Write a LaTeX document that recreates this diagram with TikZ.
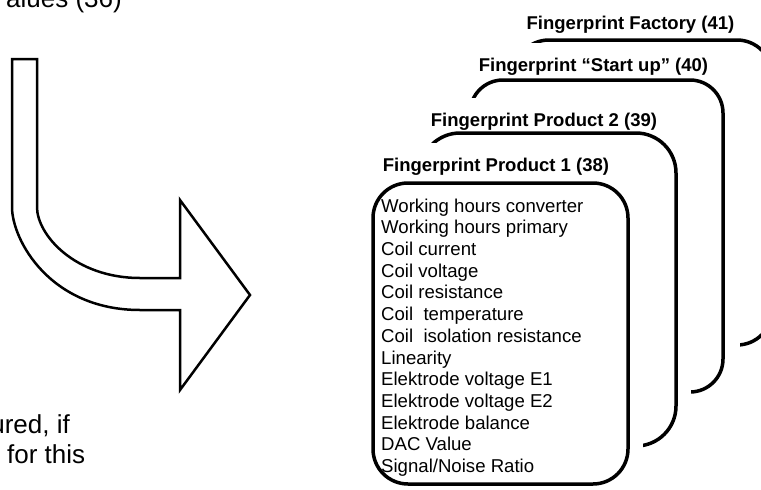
\documentclass[tikz,border=0pt]{standalone}
\usepackage{fontspec}
\setmainfont{Liberation Sans}
\begin{document}
\begin{tikzpicture}[x=1pt,y=-1pt,
  cardline/.style={line width=3.5pt, fill=white},
  cover/.style={fill=white, draw=none},
  cardtitle/.style={font=\fontsize{18.5}{22}\selectfont\bfseries, anchor=base, inner sep=0pt},
  cardbody/.style={font=\fontsize{18.6}{21.7}\selectfont, align=left, anchor=north west, inner sep=0pt},
  bigtext/.style={font=\fontsize{26}{30}\selectfont, inner sep=0pt},
  bentarrow/.style={line width=2.5pt, line join=miter}]
\useasboundingbox (0,0) rectangle (761,490);
\clip (0,0) rectangle (761,490);

% cut-off notes on the left
\node[bigtext, anchor=base west] (topnote) at (6,7) {alues (36)};
\node[bigtext, anchor=base east] (notea) at (70,433) {ured, if};
\node[bigtext, anchor=base west] (noteb) at (7,463) {for this};

% bent block arrow
\draw[bentarrow] (12,59) -- (37,59) -- (37,207)
  .. controls (37,235) and (75,278) .. (140,278) -- (180,278) -- (180,200)
  -- (250,295) -- (180,390) -- (180,310) -- (140,310)
  .. controls (50,310) and (12,240) .. (12,207) -- cycle;

% stacked fingerprint cards, back to front
\fill[cover] (509,20) rectangle (790,370);
\draw[cardline, rounded corners=35pt] (514,40) rectangle (772,345);
\node[cardtitle] (factory) at (630.5,29) {Fingerprint Factory (41)};

\fill[cover] (465,43) rectangle (740,420);
\draw[cardline, rounded corners=33pt] (470,80) rectangle (723,392);
\node[cardtitle] (startup) at (593.5,71) {Fingerprint “Start up” (40)};

\fill[cover] (415,98) rectangle (691,470);
\draw[cardline, rounded corners=40pt] (420,133) rectangle (676,446);
\node[cardtitle] (prod2) at (544,126) {Fingerprint Product 2 (39)};

\fill[cover] (367,143) rectangle (643,490);
\draw[cardline, rounded corners=35pt] (373,183) rectangle (628,484);
\node[cardtitle] (prod1) at (496,171) {Fingerprint Product 1 (38)};

\node[cardbody] (values) at (381,198.5) {Working hours converter\\
Working hours primary\\
Coil current\\
Coil voltage\\
Coil resistance\\
Coil\ \ temperature\\
Coil\ \ isolation resistance\\
Linearity\\
Elektrode voltage E1\\
Elektrode voltage E2\\
Elektrode balance\\
DAC Value\\
Signal/Noise Ratio};
\end{tikzpicture}
\end{document}
